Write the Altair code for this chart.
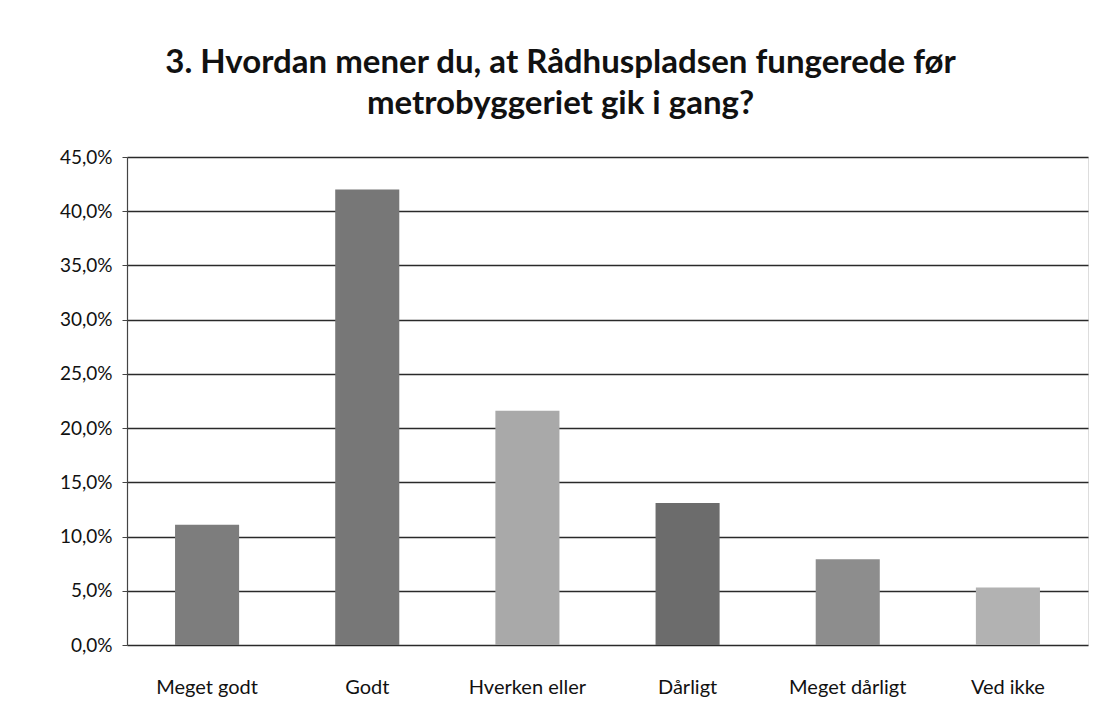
import altair as alt
import pandas as pd

categories = ["Meget godt", "Godt", "Hverken eller", "Dårligt", "Meget dårligt", "Ved ikke"]
values = [11.1, 42.0, 21.6, 13.1, 7.9, 5.3]
colors = ["#7d7d7d", "#777777", "#a9a9a9", "#6c6c6c", "#8d8d8d", "#b2b2b2"]
y_ticks = [0, 5, 10, 15, 20, 25, 30, 35, 40, 45]

df = pd.DataFrame({"kategori": categories, "andel": values, "farve": colors})

bars = alt.Chart(df).mark_bar().encode(
    x=alt.X("kategori:N", sort=categories,
            scale=alt.Scale(paddingInner=0.6, paddingOuter=0.3),
            axis=alt.Axis(title=None, labelAngle=0, ticks=False, domain=False,
                          labelFont="Lato", labelFontSize=20, labelColor="#111",
                          labelPadding=32)),
    y=alt.Y("andel:Q", scale=alt.Scale(domain=[0, 45], nice=False),
            axis=alt.Axis(title=None, values=y_ticks, grid=True, gridColor="#2a2a2a",
                          gridWidth=1.6, domain=True, domainColor="#444", domainWidth=1.2,
                          tickSize=5, tickColor="#444",
                          labelExpr="replace(format(datum.value, '.1f'), '.', ',') + '%'",
                          labelFont="Lato", labelFontSize=19, labelColor="#111",
                          labelPadding=10)),
    color=alt.Color("farve:N", scale=None, legend=None),
)

chart = bars.properties(
    width=961,
    height=488,
    title=alt.TitleParams(
        ["3. Hvordan mener du, at Rådhuspladsen fungerede før", "metrobyggeriet gik i gang?"],
        font="Lato", fontSize=33, fontWeight="bold", color="#111",
        anchor="middle", dx=-47, offset=27, lineHeight=41,
    ),
    autosize=alt.AutoSizeParams(type="none"),
    padding={"left": 119, "top": 149, "right": 6, "bottom": 70},
).configure_view(stroke=None).configure(background="white")

chart.save("out.html", embed_options={"renderer": "svg", "actions": False})
